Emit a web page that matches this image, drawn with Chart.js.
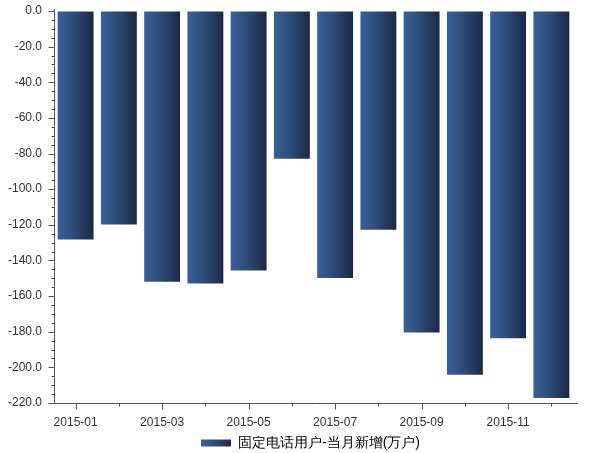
<!DOCTYPE html>
<html>
<head>
<meta charset="utf-8">
<script src="https://cdn.jsdelivr.net/npm/chart.js@4.4.1/dist/chart.umd.min.js"></script>
<style>
html, body { margin: 0; padding: 0; background: #fff; }
#wrap { width: 600px; height: 453px; }
</style>
</head>
<body>
<div id="wrap"><canvas id="chart" width="600" height="453"></canvas></div>
<script>
const months = ["2015-01", "2015-02", "2015-03", "2015-04", "2015-05", "2015-06",
    "2015-07", "2015-08", "2015-09", "2015-10", "2015-11", "2015-12"];
const newUsers = [-128.3, -119.8, -151.9, -153.0, -145.6, -82.9, -149.9, -122.8, -180.5, -204.2, -183.7, -217.2];
const seriesName = "固定电话用户-当月新增(万户)";
const yMin = -220, yMax = 0, yStep = 20, yMinorStep = 5;

const FONT = "'Liberation Sans', Arial, sans-serif";
const TEXT = "#333";

function barGradient(ctx, x0, x1) {
    const g = ctx.createLinearGradient(x0, 0, x1, 0);
    g.addColorStop(0, "#3b6096");
    g.addColorStop(0.45, "#2d4c7b");
    g.addColorStop(1, "#1b2842");
    return g;
}

// axis lines + major/minor tick marks
const axisTicks = {
    id: "axisTicks",
    afterDraw(chart) {
        const { ctx, chartArea: a, scales: { x, y } } = chart;
        ctx.save();
        ctx.strokeStyle = "#555";
        ctx.lineWidth = 1;
        ctx.beginPath();
        const left = Math.round(a.left) + .5, bottom = Math.round(a.bottom) + .5;
        ctx.moveTo(left, a.top - 2);
        ctx.lineTo(left, bottom);
        ctx.lineTo(a.right + 5, bottom);
        for (let v = yMax; v >= yMin; v -= yMinorStep) {
            const py = Math.round(y.getPixelForValue(v)) + .5;
            const len = v % yStep === 0 ? 6 : 3;
            ctx.moveTo(left - len, py);
            ctx.lineTo(left, py);
        }
        months.forEach((m, i) => {
            const px = Math.round(x.getPixelForValue(i)) + .5;
            const len = i % 2 === 0 ? 6 : 3;
            ctx.moveTo(px, bottom);
            ctx.lineTo(px, bottom + len);
        });
        ctx.stroke();
        ctx.restore();
    }
};

// nudge the legend to where the original puts it (a bit right of centre, near the bottom edge)
const legendNudge = {
    id: "legendNudge",
    afterLayout(chart) {
        const l = chart.legend;
        l.left += 22; l.right += 22;
        l.top += 7; l.bottom += 7;
    }
};

const chart = new Chart(document.getElementById("chart"), {
    type: "bar",
    data: {
        labels: months,
        datasets: [{
            label: seriesName,
            data: newUsers,
            categoryPercentage: 1,
            barPercentage: 0.83,
            borderWidth: 0,
            backgroundColor: c => {
                const ch = c.chart;
                if (!ch.chartArea || c.dataIndex === undefined) return "#2d4c7b";
                const px = ch.scales.x.getPixelForValue(c.dataIndex);
                const half = ch.scales.x.width / months.length * 0.83 / 2;
                return barGradient(ch.ctx, px - half, px + half);
            }
        }]
    },
    options: {
        responsive: false,
        animation: false,
        devicePixelRatio: 1,
        layout: { padding: { top: 11, right: 27, left: 4, bottom: 0 } },
        plugins: {
            tooltip: { enabled: false },
            legend: {
                position: "bottom",
                labels: {
                    boxWidth: 30,
                    boxHeight: 7,
                    padding: 0,
                    color: TEXT,
                    font: { family: FONT, size: 14 },
                    generateLabels: ch => [{
                        text: seriesName,
                        fillStyle: barGradient(ch.ctx, 202, 232),
                        strokeStyle: "rgba(0,0,0,0)",
                        lineWidth: 0,
                        datasetIndex: 0
                    }]
                }
            }
        },
        scales: {
            x: {
                grid: { display: false },
                border: { display: false },
                ticks: {
                    autoSkip: false,
                    maxRotation: 0,
                    padding: 4,
                    color: TEXT,
                    font: { family: FONT, size: 12 },
                    callback: (v, i) => i % 2 === 0 ? months[i] : ""
                },
                afterFit: s => { s.height = 26; }
            },
            y: {
                min: yMin,
                max: yMax,
                // invisible tick room; the visible ticks come from axisTicks
                grid: { display: true, drawOnChartArea: false, drawTicks: true, tickLength: 9, color: "rgba(0,0,0,0)" },
                border: { display: false },
                ticks: {
                    stepSize: yStep,
                    padding: 3,
                    color: TEXT,
                    font: { family: FONT, size: 12 },
                    callback: v => v.toFixed(1)
                },
                afterFit: s => { s.width = 50; }
            }
        }
    },
    plugins: [axisTicks, legendNudge]
});
</script>
</body>
</html>
